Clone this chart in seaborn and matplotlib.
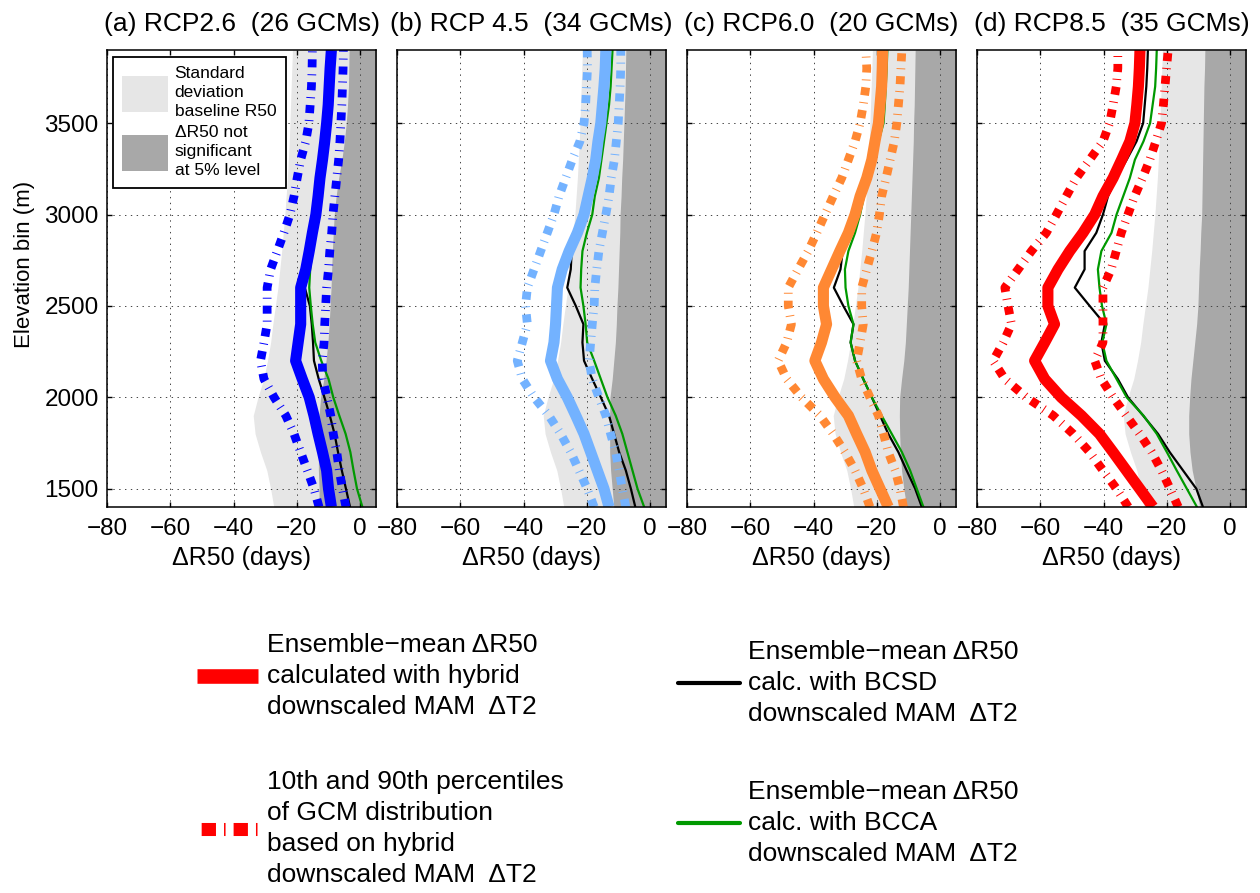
import matplotlib
matplotlib.use("Agg")
import matplotlib.pyplot as plt
import seaborn as sns
from matplotlib.lines import Line2D
from matplotlib.patches import Patch

# ---------------- data (elevation bins ascending) ----------------
elevation = [1400, 1500, 1600, 1700, 1800, 1900, 2000, 2100, 2200, 2300, 2400, 2500, 2600,
             2700, 2800, 2900, 3000, 3100, 3200, 3300, 3400, 3500, 3600, 3700, 3800, 3900]

# baseline standard deviation (left edge of light-grey band), shared by all panels
std_left = [-27.3, -28.3, -29.5, -31.5, -33.2, -33.8, -32.3, -30.5, -29.3, -28.3, -27.6, -26.8, -26.0,
            -25.4, -24.8, -24.3, -23.8, -23.4, -23.0, -22.7, -22.4, -22.2, -22.0, -21.8, -21.6, -21.4]

titles = ["(a) RCP2.6  (26 GCMs)", "(b) RCP 4.5  (34 GCMs)",
          "(c) RCP6.0  (20 GCMs)", "(d) RCP8.5  (35 GCMs)"]
colors = ["#0000ff", "#73b2ff", "#ff8833", "#ff0000"]

# not-significant threshold (left edge of dark-grey region)
nonsig_a = [-13.0, -13.0, -13.2, -13.2, -13.2, -13.0, -12.5, -11.5, -10.8, -10.2, -9.8, -9.5, -9.2,
            -9.0, -8.8, -8.5, -8.2, -7.6, -6.8, -5.8, -5.0, -4.4, -4.0, -3.7, -3.6, -3.5]
nonsig_b = [-11.5, -12.0, -12.5, -12.8, -12.8, -12.8, -12.7, -12.0, -11.5, -11.0, -10.7, -10.5, -10.2,
            -10.0, -9.8, -9.6, -9.5, -9.2, -9.0, -8.7, -8.5, -8.3, -8.1, -7.9, -7.8, -7.7]
nonsig_c = [-10.6, -11.5, -12.2, -12.6, -12.8, -12.9, -12.8, -12.2, -11.5, -11.0, -10.7, -10.4, -10.1,
            -9.9, -9.7, -9.5, -9.3, -9.1, -8.9, -8.7, -8.5, -8.4, -8.2, -8.1, -8.0, -7.9]
nonsig_d = [-9.6, -10.8, -12.0, -12.7, -13.1, -13.1, -12.8, -12.4, -11.8, -11.2, -10.6, -10.2, -10.0,
            -9.8, -9.5, -9.3, -9.0, -8.9, -8.8, -8.7, -8.6, -8.5, -8.4, -8.3, -8.1, -8.0]

# hybrid ensemble mean
mean_a = [-9.1, -10.0, -10.6, -11.9, -13.3, -14.6, -16.1, -18.3, -20.4, -19.6, -18.8, -18.8, -18.8,
          -17.2, -16.1, -15.1, -14.0, -13.3, -12.7, -11.9, -11.2, -10.6, -10.1, -9.8, -9.5, -9.1]
mean_b = [-13.0, -14.6, -16.7, -18.8, -20.9, -23.5, -26.2, -29.3, -31.5, -30.4, -29.9, -29.6, -29.3,
          -27.8, -25.6, -23.0, -20.9, -19.6, -18.3, -17.2, -16.5, -15.6, -15.1, -14.6, -14.2, -14.0]
mean_c = [-16.4, -19.0, -21.6, -23.7, -26.4, -29.0, -33.2, -36.9, -39.6, -37.5, -35.9, -36.9, -36.9,
          -34.3, -31.7, -29.0, -26.9, -25.3, -23.2, -21.6, -20.6, -19.5, -19.0, -18.5, -18.3, -18.2]
mean_d = [-24.4, -28.6, -32.8, -37.0, -41.3, -47.0, -53.4, -58.6, -61.8, -58.6, -55.5, -57.6, -57.6,
          -54.4, -50.7, -46.5, -42.8, -40.2, -37.0, -34.3, -31.7, -30.1, -29.5, -29.0, -28.7, -28.5]

# 10th percentile
p10_a = [-13.0, -14.6, -16.7, -18.8, -20.9, -23.5, -27.2, -30.4, -31.5, -30.4, -29.4, -29.4, -29.4,
         -28.3, -26.2, -24.1, -22.2, -20.9, -19.9, -18.8, -17.2, -16.2, -15.8, -15.4, -15.2, -15.1]
p10_b = [-17.7, -19.9, -22.5, -25.1, -28.3, -32.0, -36.7, -40.4, -42.0, -40.4, -38.8, -39.4, -38.8,
         -36.7, -34.6, -32.5, -30.4, -28.8, -26.7, -24.6, -22.2, -20.9, -20.4, -20.1, -19.8, -19.9]
p10_c = [-22.2, -24.3, -26.9, -30.1, -33.8, -38.0, -43.8, -48.5, -51.2, -48.5, -47.0, -48.0, -48.0,
         -44.9, -41.7, -39.0, -36.4, -33.8, -31.1, -29.0, -26.9, -25.3, -24.3, -23.5, -23.2, -23.5]
p10_d = [-32.2, -35.9, -40.2, -44.4, -49.6, -55.9, -64.4, -71.2, -74.9, -71.7, -69.1, -70.2, -71.2,
         -67.0, -62.8, -58.1, -54.9, -51.8, -48.6, -44.4, -40.2, -38.1, -37.0, -36.0, -35.5, -35.5]

# 90th percentile
p90_a = [-4.5, -5.6, -6.6, -7.4, -8.5, -9.3, -10.5, -11.8, -12.0, -11.4, -11.2, -10.9, -10.6,
         -10.0, -9.6, -9.0, -8.6, -8.0, -7.4, -6.8, -6.4, -6.1, -5.8, -5.6, -5.4, -5.3]
p90_b = [-7.7, -8.8, -9.8, -10.9, -12.5, -14.0, -16.2, -18.3, -19.3, -18.8, -18.3, -17.7, -17.5,
         -16.9, -16.2, -15.1, -14.0, -13.0, -12.3, -11.3, -10.7, -10.1, -9.8, -9.5, -9.3, -9.3]
p90_c = [-11.6, -12.7, -14.2, -16.4, -17.9, -19.5, -22.2, -24.8, -26.4, -25.3, -24.3, -24.8, -24.8,
         -23.2, -21.6, -20.1, -19.2, -18.5, -17.1, -15.8, -14.5, -13.7, -13.2, -12.7, -12.4, -12.1]
p90_d = [-16.4, -19.0, -21.7, -24.8, -28.6, -32.8, -37.0, -40.7, -42.8, -40.2, -40.2, -40.2, -40.2,
         -37.6, -36.0, -34.4, -32.3, -30.2, -27.7, -25.4, -23.5, -21.7, -21.1, -20.6, -20.1, -19.6]

# BCSD ensemble mean
bcsd_a = [-3.2, -4.5, -5.8, -7.0, -8.1, -9.6, -11.3, -13.1, -14.6, -14.9, -15.3, -15.9, -17.5,
          -16.9, -15.6, -14.6, -13.6, -12.9, -12.3, -11.6, -11.0, -10.5, -10.1, -9.8, -9.5, -9.2]
bcsd_b = [-4.7, -6.1, -7.7, -9.8, -11.4, -13.0, -15.6, -18.3, -20.9, -21.4, -21.1, -23.5, -26.2,
          -25.1, -24.8, -22.8, -20.7, -19.4, -18.1, -17.0, -16.3, -15.4, -14.9, -14.4, -14.0, -13.8]
bcsd_c = [-5.8, -7.9, -10.6, -13.2, -16.4, -19.0, -21.6, -24.3, -26.9, -28.3, -27.4, -30.6, -33.6,
          -31.5, -30.8, -28.5, -26.5, -24.9, -22.9, -21.3, -20.3, -19.2, -18.7, -18.2, -18.0, -17.9]
bcsd_d = [-8.6, -10.7, -14.9, -19.1, -22.8, -27.5, -32.3, -35.5, -39.6, -40.7, -39.6, -44.4, -49.1,
          -46.0, -46.0, -42.3, -40.2, -38.6, -36.0, -32.7, -29.6, -27.5, -27.0, -26.5, -26.2, -26.0]

# BCCA ensemble mean
bcca_a = [0.7, -1.0, -2.1, -3.1, -4.6, -6.6, -8.5, -10.0, -12.3, -14.2, -15.0, -15.6, -16.1,
          -15.8, -15.1, -14.2, -13.3, -12.6, -12.0, -11.4, -10.8, -10.3, -9.9, -9.6, -9.3, -9.0]
bcca_b = [-1.9, -4.0, -5.6, -7.2, -8.8, -10.9, -13.5, -15.6, -17.7, -19.9, -20.4, -21.1, -22.0,
          -21.8, -21.4, -20.0, -18.3, -17.5, -16.2, -15.4, -14.6, -13.8, -13.0, -12.5, -12.2, -11.9]
bcca_c = [-5.3, -7.4, -9.5, -12.1, -15.3, -18.5, -21.6, -24.3, -26.9, -28.3, -27.4, -29.0, -29.9,
          -30.1, -29.0, -26.9, -25.3, -24.1, -22.4, -21.1, -19.5, -17.9, -17.5, -17.2, -16.9, -16.7]
bcca_d = [-10.5, -13.7, -16.9, -20.0, -23.2, -27.4, -32.7, -35.9, -39.1, -40.4, -39.1, -40.5, -41.3,
          -41.8, -40.7, -37.5, -35.9, -33.8, -31.7, -30.1, -27.4, -25.3, -24.5, -23.7, -23.4, -23.2]

x_ticks = [-80, -60, -40, -20, 0]
y_ticks = [1500, 2000, 2500, 3000, 3500]

panels = [
    (mean_a, p10_a, p90_a, bcsd_a, bcca_a, nonsig_a),
    (mean_b, p10_b, p90_b, bcsd_b, bcca_b, nonsig_b),
    (mean_c, p10_c, p90_c, bcsd_c, bcca_c, nonsig_c),
    (mean_d, p10_d, p90_d, bcsd_d, bcca_d, nonsig_d),
]

# ---------------- style ----------------
sns.set_style("ticks")
plt.rcParams.update({
    "font.family": ["Liberation Sans", "DejaVu Sans"],
    "lines.scale_dashes": False,
    "axes.linewidth": 1.1,
    "xtick.direction": "in", "ytick.direction": "in",
    "xtick.top": True, "ytick.right": True,
    "xtick.major.size": 3.5, "ytick.major.size": 3.5,
    "xtick.major.width": 1.0, "ytick.major.width": 1.0,
    "xtick.color": "black", "ytick.color": "black",
    "xtick.labelcolor": "black", "ytick.labelcolor": "black",
    "text.color": "black", "axes.labelcolor": "black",
    "axes.edgecolor": "black",
})

LIGHT = "#e6e6e6"
DARK = "#a8a8a8"
GREEN = "#009900"
pct_ls = (0, (5.8, 5.0, 0.7, 5.0))

W, H = 1260, 893
fig = plt.figure(figsize=(W / 100, H / 100), dpi=100)
lefts = [107, 397, 687, 977]

for i, (mean_v, p10_v, p90_v, bcsd_v, bcca_v, ns_v) in enumerate(panels):
    ax = fig.add_axes([lefts[i] / W, (H - 507) / H, 269 / W, 457 / H])
    right_edge = [12] * len(elevation)
    ax.fill_betweenx(elevation, std_left, right_edge, color=LIGHT, lw=0, zorder=1)
    ax.fill_betweenx(elevation, ns_v, right_edge, color=DARK, lw=0, zorder=1.2)

    sns.lineplot(x=bcsd_v, y=elevation, orient="y", estimator=None, color="black",
                 lw=1.6, ax=ax, zorder=3)
    sns.lineplot(x=bcca_v, y=elevation, orient="y", estimator=None, color=GREEN,
                 lw=1.6, ax=ax, zorder=3)
    for pv in (p10_v, p90_v):
        sns.lineplot(x=pv, y=elevation, orient="y", estimator=None, color=colors[i],
                     lw=6.3, linestyle=pct_ls, ax=ax, zorder=4)
    sns.lineplot(x=mean_v, y=elevation, orient="y", estimator=None, color=colors[i],
                 lw=8, solid_capstyle="butt", ax=ax, zorder=5)

    ax.set_xlim(-80, 5)
    ax.set_ylim(1400, 3900)
    ax.set_xticks(x_ticks)
    ax.set_yticks(y_ticks)
    ax.set_axisbelow(False)
    ax.grid(True, color="#444444", linestyle=(0, (1, 3.2)), lw=0.7)
    ax.tick_params(axis="x", labelsize=17.5, pad=8)
    ax.tick_params(axis="y", labelsize=17.5, pad=6)
    ax.set_xlabel("ΔR50 (days)", fontsize=18, labelpad=4)
    ax.set_ylabel("")
    ax.set_title(titles[i], fontsize=19, pad=14)
    for sp in ax.spines.values():
        sp.set_visible(True)
        sp.set_zorder(6)
    if i == 0:
        ax.set_ylabel("Elevation bin (m)", fontsize=16)
        ax.yaxis.set_label_coords(-0.268, 0.53)
        leg = ax.legend(
            handles=[Patch(facecolor=LIGHT, edgecolor="none"), Patch(facecolor=DARK, edgecolor="none")],
            labels=["Standard\ndeviation\nbaseline R50", "ΔR50 not\nsignificant\nat 5% level"],
            loc="upper left", bbox_to_anchor=(0.022, 0.985), borderaxespad=0,
            fontsize=12.5, handlelength=2.65, handleheight=2.8, borderpad=0.55,
            handletextpad=0.35, labelspacing=0.35, fancybox=False, framealpha=1,
            edgecolor="black")
        leg.get_frame().set_linewidth(1.3)
        for t in leg.get_texts():
            t.set_linespacing(1.33)
        leg.set_zorder(10)
    else:
        ax.tick_params(axis="y", labelleft=False)

# ---------------- bottom legends ----------------
h_mean = Line2D([], [], color="#ff0000", lw=10.5, solid_capstyle="butt")
h_pct = Line2D([], [], color="#ff0000", lw=9.4, linestyle=(20, (10.3, 5.8, 1.1, 5.8)))
h_bcsd = Line2D([], [], color="black", lw=3)
h_bcca = Line2D([], [], color=GREEN, lw=3)

leg1 = fig.legend(
    handles=[h_mean, h_pct],
    labels=["Ensemble−mean ΔR50\ncalculated with hybrid\ndownscaled MAM  ΔT2",
            "10th and 90th percentiles\nof GCM distribution\nbased on hybrid\ndownscaled MAM  ΔT2"],
    loc="upper left", bbox_to_anchor=(197 / W, 1 - 633 / H), borderpad=0, borderaxespad=0,
    frameon=False, fontsize=19, handlelength=2.31, handletextpad=0.34, labelspacing=1.93)
leg2 = fig.legend(
    handles=[h_bcsd, h_bcca],
    labels=["Ensemble−mean ΔR50\ncalc. with BCSD\ndownscaled MAM  ΔT2",
            "Ensemble−mean ΔR50\ncalc. with BCCA\ndownscaled MAM  ΔT2"],
    loc="upper left", bbox_to_anchor=(678 / W, 1 - 640 / H), borderpad=0, borderaxespad=0,
    frameon=False, fontsize=19, handlelength=2.35, handletextpad=0.3, labelspacing=2.05)
for lg in (leg1, leg2):
    for t in lg.get_texts():
        t.set_linespacing(1.37)

fig.savefig("out.png", dpi=100)
